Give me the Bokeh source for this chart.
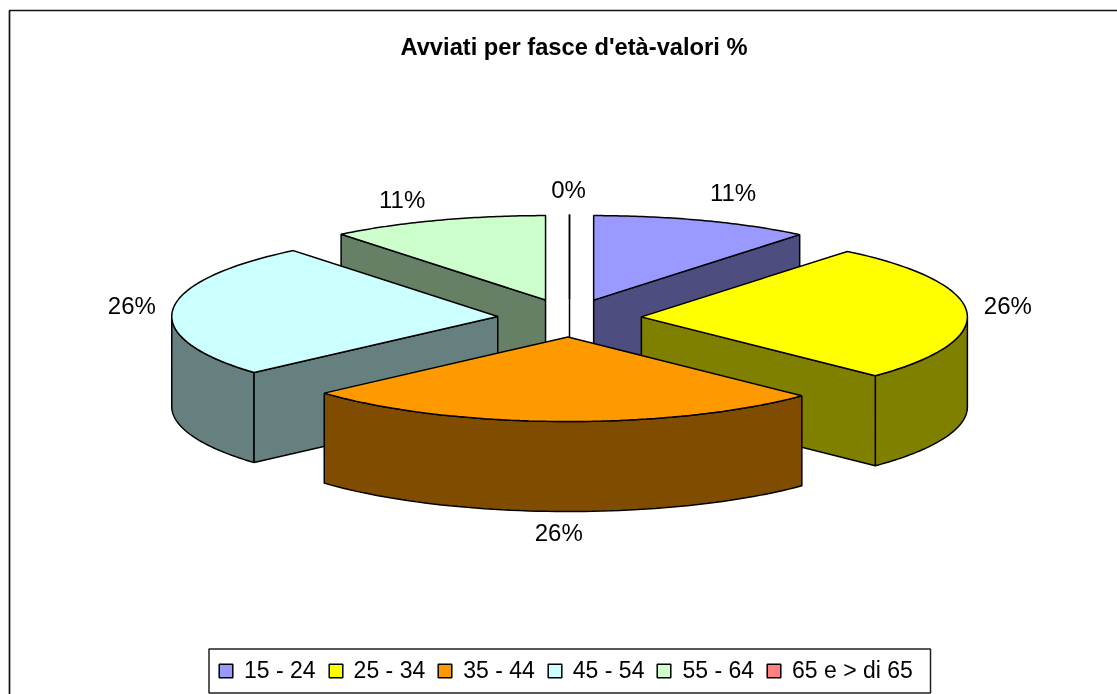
import numpy as np
from bokeh.plotting import figure
from bokeh.embed import file_html
from bokeh.resources import INLINE
from bokeh.models import Range1d, Legend, LegendItem, Label
from bokeh.core.properties import value

# --- data ---
categories = ["15 - 24", "25 - 34", "35 - 44", "45 - 54", "55 - 64", "65 e > di 65"]
percent = [10.9, 26.4, 26.2, 25.8, 10.8, 0]
labels = ["11%", "26%", "26%", "26%", "11%", "0%"]

# --- styling ---
top_colors = ["#9999FF", "#FFFF00", "#FF9900", "#CCFFFF", "#CCFFCC", "#FF8080"]
wall_colors = ["#4D4D80", "#808000", "#804D00", "#668080", "#668066", "#804040"]
label_nudge = [(30, -28), (41, -6), (-2, 111), (-41, -4), (-35, -21), (-1, -25)]
TITLE = "Avviati per fasce d'età-valori %"
FONT = "Liberation Sans"

# --- 3D pie geometry (page pixels) ---
CX, CY, RX, RY, DEPTH, EX, EY = 569, 317.5, 326, 84.5, 90, 72, 19

p = figure(width=1117, height=694, output_backend="svg", toolbar_location=None,
           x_range=Range1d(0, 1117), y_range=Range1d(694, 0),
           x_axis_location=None, y_axis_location=None, min_border=0,
           outline_line_color=None, background_fill_color="white",
           styles={"position": "fixed", "left": "0px", "top": "0px"})
p.grid.visible = False

p.line([9, 9, 1117], [694, 10, 10], line_color="#111111", line_width=1.7)
p.quad(left=[208.5], right=[930], top=[648.5], bottom=[692.5], fill_color="white",
       line_color="#222222", line_width=1.5)

total = sum(percent)
edges = np.concatenate([[0], np.cumsum(percent)]) * 360.0 / total
mids = (edges[:-1] + edges[1:]) / 2


def arc(ax, ay, t0, t1, n=60):
    t = np.radians(np.linspace(t0, t1, n))
    return ax + RX * np.sin(t), ay - RY * np.cos(t)


def wall(xs, ys, color):
    xs = np.asarray(xs)
    ys = np.asarray(ys)
    p.patches([np.concatenate([xs, xs[::-1]]).tolist()],
              [np.concatenate([ys, ys[::-1] + DEPTH]).tolist()],
              fill_color=color, line_color="black", line_width=1.5)


renderers = {}
order = sorted(range(len(percent)), key=lambda i: -np.cos(np.radians(mids[i])))
for i in order:
    t0, t1 = edges[i], edges[i + 1]
    m = np.radians(mids[i])
    ax, ay = CX + EX * np.sin(m), CY - EY * np.cos(m)
    x0, y0 = arc(ax, ay, t0, t0, 1)
    x1, y1 = arc(ax, ay, t1, t1, 1)
    lo, hi = max(t0, 90), min(t1, 270)
    if hi > lo:
        ax_x, ax_y = arc(ax, ay, lo, hi)
        wall(ax_x, ax_y, wall_colors[i])
    if 180 < t0 <= 360:
        wall([ax, x0[0]], [ay, y0[0]], wall_colors[i])
    if 0 < t1 < 180:
        wall([ax, x1[0]], [ay, y1[0]], wall_colors[i])
    rx, ry = arc(ax, ay, t0, t1)
    renderers[i] = p.patches([[ax] + rx.tolist()], [[ay] + ry.tolist()],
                             fill_color=top_colors[i], line_color="black", line_width=1.5)

    nx, ny = label_nudge[i]
    rim_x, rim_y = arc(ax, ay, mids[i], mids[i], 1)
    p.add_layout(Label(x=rim_x[0] + nx, y=rim_y[0] + ny, text=labels[i],
                       text_font=FONT, text_font_size="24px", text_color="black",
                       text_align="center", text_baseline="middle"))

p.add_layout(Label(x=573.5, y=46, text=TITLE, text_font=FONT, text_font_size="23.7px",
                   text_font_style="bold", text_color="black",
                   text_align="center", text_baseline="middle"))

legend = Legend(items=[LegendItem(label=value(c), renderers=[renderers[i]])
                       for i, c in enumerate(categories)],
                orientation="horizontal", location=(217, 10), padding=0, spacing=11,
                glyph_width=17, glyph_height=17, label_standoff=10,
                label_text_font=FONT, label_text_font_size="23px",
                label_text_color="black", border_line_color=None,
                background_fill_color=None, margin=0)
p.add_layout(legend, "center")

open("out.html", "w").write(file_html(p, INLINE))
